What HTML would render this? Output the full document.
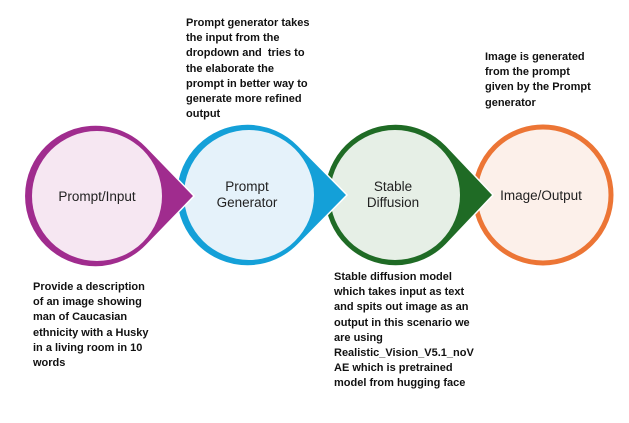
<!DOCTYPE html>
<html><head><meta charset="utf-8"><style>
body{margin:0;background:#fff;width:629px;height:423px;overflow:hidden;position:relative;font-family:"Liberation Sans",sans-serif}
.t{position:absolute;font-size:11px;font-weight:bold;line-height:15.2px;color:#111;white-space:nowrap}
svg{position:absolute;left:0;top:0}
</style></head><body>
<svg width="629" height="423" font-family="Liberation Sans, sans-serif" font-size="13.5" fill="#222">
<g>
<circle cx="543" cy="195" r="68" fill="#fcf0ea" stroke="#ec7535" stroke-width="5"/>
</g>
<g>
<path d="M493,195 L446.2,145.5 A71,71 0 1 0 446.2,244.5 Z" fill="#1f6b25" stroke="#fff" stroke-width="1.5"/>
<circle cx="395" cy="195" r="65" fill="#e6efe6"/>
</g>
<g>
<path d="M347,195 L298.2,145.5 A71,71 0 1 0 298.2,244.5 Z" fill="#14a0d8" stroke="#fff" stroke-width="1.5"/>
<circle cx="249" cy="195" r="65" fill="#e5f2fa"/>
</g>
<g>
<path d="M194,196 L146.2,146.5 A71,71 0 1 0 146.2,245.5 Z" fill="#a02c8e" stroke="#fff" stroke-width="1.5"/>
<circle cx="97" cy="196" r="65" fill="#f6e7f2"/>
</g>
<text x="97" y="201" text-anchor="middle">Prompt/Input</text>
<text x="247" y="191" text-anchor="middle">Prompt</text>
<text x="247" y="207" text-anchor="middle">Generator</text>
<text x="393" y="191" text-anchor="middle">Stable</text>
<text x="393" y="207" text-anchor="middle">Diffusion</text>
<text x="541" y="200" text-anchor="middle">Image/Output</text>
</svg>
<div class="t" style="left:186px;top:16px">Prompt generator takes<br>the input from the<br>dropdown and&nbsp; tries to<br>the elaborate the<br>prompt in better way to<br>generate more refined<br>output</div>
<div class="t" style="left:485px;top:50px">Image is generated<br>from the prompt<br>given by the Prompt<br>generator</div>
<div class="t" style="left:33px;top:280px">Provide a description<br>of an image showing<br>man of Caucasian<br>ethnicity with a Husky<br>in a living room in 10<br>words</div>
<div class="t" style="left:334px;top:270px">Stable diffusion model<br>which takes input as text<br>and spits out image as an<br>output in this scenario we<br>are using<br>Realistic_Vision_V5.1_noV<br>AE which is pretrained<br>model from hugging face</div>
</body></html>
